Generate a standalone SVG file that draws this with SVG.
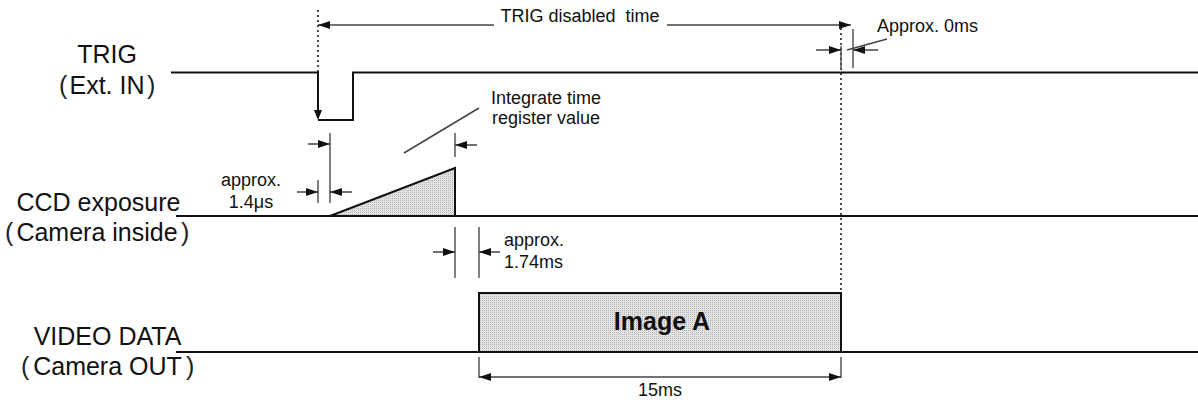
<svg xmlns="http://www.w3.org/2000/svg" width="1198" height="403" viewBox="0 0 1198 403">
<style>
.big{font-family:"Liberation Sans",Arial,sans-serif;font-size:25px;fill:#111}
.par{font-family:"Liberation Sans",Arial,sans-serif;font-size:25px;fill:#222}
.sm{font-family:"Liberation Sans",Arial,sans-serif;font-size:18px;fill:#111}
.sig{fill:none;stroke:#111;stroke-width:2}
.dim{fill:none;stroke:#444;stroke-width:1.5}
.tick{fill:none;stroke:#555;stroke-width:1.5}
.dot{fill:none;stroke:#111;stroke-width:1.5;stroke-dasharray:2 3}
.hat{fill:url(#hatch);stroke:#111;stroke-width:2}
</style>
<defs>
<pattern id="hatch" width="2" height="2" patternUnits="userSpaceOnUse">
<rect width="2" height="2" fill="#e2e2e2"/>
<rect width="1" height="1" fill="#b8b8b8"/>
</pattern>
<marker id="ah" viewBox="0 0 12 8" refX="12" refY="4" markerWidth="12" markerHeight="8" markerUnits="userSpaceOnUse" orient="auto-start-reverse">
<path d="M0,0 L12,4 L0,8 z" fill="#111"/>
</marker>
</defs>

<g id="labels">
<text class="big" x="107" y="63" text-anchor="middle">TRIG</text>
<text class="par" x="59" y="94">(</text>
<text class="big" x="107" y="94" text-anchor="middle">Ext. IN</text>
<text class="par" x="147" y="94">)</text>

<text class="big" x="98.5" y="211" text-anchor="middle">CCD exposure</text>
<text class="par" x="5" y="241">(</text>
<text class="big" x="97" y="241" text-anchor="middle">Camera inside</text>
<text class="par" x="181" y="241">)</text>

<text class="big" x="107.5" y="345" text-anchor="middle">VIDEO DATA</text>
<text class="par" x="21" y="375">(</text>
<text class="big" x="107.5" y="375" text-anchor="middle">Camera OUT</text>
<text class="par" x="186" y="375">)</text>
</g>

<g id="trig">
<path class="sig" d="M171,72.5 H318 V112 M318,120 H353 V72.5 H1198"/>
<path d="M314,110 L322,110 L318,120 z" fill="#111"/>
</g>

<g id="ccd">
<path class="sig" d="M176,216 H1198"/>
<polygon class="hat" points="330,216 455,168 455,216"/>
</g>

<g id="video">
<path class="sig" d="M176,352 H1198"/>
<rect id="imageA" class="hat" x="479" y="293" width="362" height="59"/>
<text x="662" y="330" text-anchor="middle" style="font-family:'Liberation Sans',Arial,sans-serif;font-size:25px;font-weight:bold;fill:#111">Image A</text>
</g>

<g id="connectors">
<path class="dot" d="M318,10 V72"/>
<path class="dot" d="M841,28 V293"/>
<path class="dim" d="M494,25 H318" marker-end="url(#ah)"/>
<path class="dim" d="M667,25 H851" marker-end="url(#ah)"/>

<path class="tick" d="M841,46 V68 M853,29 V68"/>
<path class="dim" d="M816,50 H841" marker-end="url(#ah)"/>
<path class="dim" d="M878,50 H853" marker-end="url(#ah)"/>
<path class="dim" d="M887,39 L847,50"/>

<path class="tick" d="M330,133 V203 M455,133 V157 M318,180 V203"/>
<path class="dim" d="M308,144 H330" marker-end="url(#ah)"/>
<path class="dim" d="M477,145 H455" marker-end="url(#ah)"/>
<path class="dim" d="M404,153 L479,108"/>
<path class="dim" d="M297,192 H318" marker-end="url(#ah)"/>
<path class="dim" d="M352,192 H330" marker-end="url(#ah)"/>

<path class="tick" d="M455,227 V278 M479,227 V278"/>
<path class="dim" d="M433,252 H455" marker-end="url(#ah)"/>
<path class="dim" d="M500,252 H479" marker-end="url(#ah)"/>

<path class="tick" d="M479,357 V378 M841,357 V378"/>
<path class="dim" d="M479,377 H841" marker-start="url(#ah)" marker-end="url(#ah)"/>
</g>

<g id="annotations">
<text class="sm" x="580" y="22" text-anchor="middle" xml:space="preserve">TRIG disabled  time</text>
<text class="sm" x="877" y="32">Approx. 0ms</text>
<text class="sm" x="546" y="104" text-anchor="middle">Integrate time</text>
<text class="sm" x="546" y="124" text-anchor="middle">register value</text>
<text class="sm" x="251" y="186" text-anchor="middle">approx.</text>
<text class="sm" x="251" y="208" text-anchor="middle">1.4μs</text>
<text class="sm" x="504" y="246">approx.</text>
<text class="sm" x="504" y="268">1.74ms</text>
<text class="sm" x="660" y="396" text-anchor="middle">15ms</text>
</g>
</svg>
